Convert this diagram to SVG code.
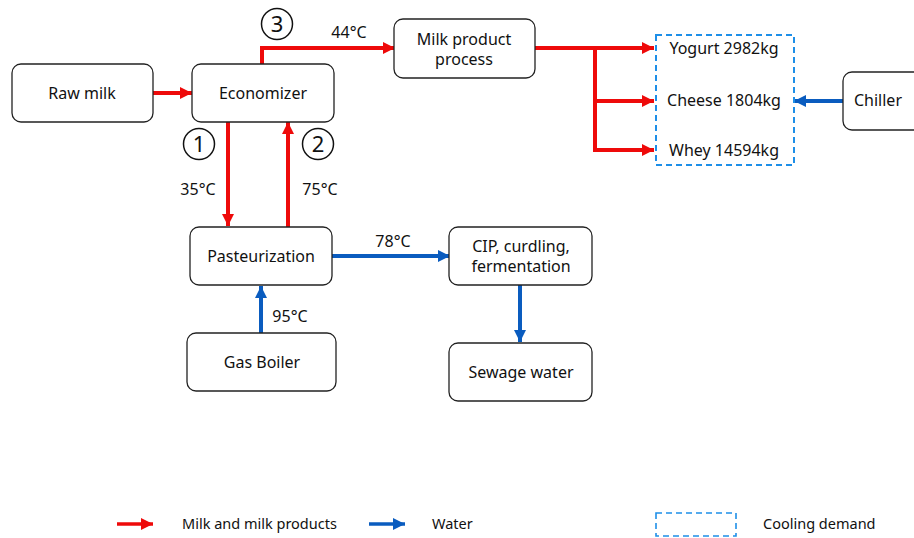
<svg xmlns="http://www.w3.org/2000/svg" width="914" height="538" viewBox="0 0 914 538">
  <style>
    text { font-family: "Noto Sans", "Open Sans", sans-serif; font-size: 16px; fill: #111; }
    .box { fill: #fff; stroke: #222; stroke-width: 1.3; }
    .milk { fill: none; stroke: #ee0a0a; stroke-width: 4; marker-end: url(#ahRed); }
    .milkplain { fill: none; stroke: #ee0a0a; stroke-width: 4; }
    .water { fill: none; stroke: #0a5cbf; stroke-width: 4; marker-end: url(#ahBlue); }
    .cool { fill: none; stroke: #1e8fe8; stroke-width: 2; stroke-dasharray: 6 4; }
    .num { fill: #fff; stroke: #111; stroke-width: 1.5; }
    .numtxt { font-size: 22px; }
    .legend { font-size: 14.5px; }
  </style>
  <defs>
    <marker id="ahRed" markerUnits="userSpaceOnUse" markerWidth="12" markerHeight="12" viewBox="0 0 10 10" refX="10" refY="5" orient="auto">
      <path d="M0,0 L10,5 L0,10 z" fill="#ee0a0a"/>
    </marker>
    <marker id="ahBlue" markerUnits="userSpaceOnUse" markerWidth="12" markerHeight="12" viewBox="0 0 10 10" refX="10" refY="5" orient="auto">
      <path d="M0,0 L10,5 L0,10 z" fill="#0a5cbf"/>
    </marker>
  </defs>

  <!-- connectors -->
  <g id="connectors">
    <line class="milk" x1="153" y1="93" x2="192" y2="93"/>
    <line class="milk" x1="228" y1="122" x2="228" y2="226"/>
    <line class="milk" x1="288" y1="227" x2="288" y2="122"/>
    <polyline class="milk" points="262,64 262,48 395,48"/>
    <line class="milkplain" x1="535" y1="48" x2="595" y2="48"/>
    <line class="milkplain" x1="595" y1="48" x2="595" y2="152"/>
    <line class="milk" x1="595" y1="48" x2="654" y2="48"/>
    <line class="milk" x1="595" y1="101" x2="654" y2="101"/>
    <line class="milk" x1="593" y1="150" x2="654" y2="150"/>
    <line class="water" x1="843" y1="101" x2="794" y2="101"/>
    <line class="water" x1="332" y1="256" x2="450" y2="256"/>
    <line class="water" x1="520" y1="285" x2="520" y2="342"/>
    <line class="water" x1="261" y1="333" x2="261" y2="286"/>

    <text x="349" y="38" text-anchor="middle">44°C</text>
    <text x="198" y="195" text-anchor="middle">35°C</text>
    <text x="320" y="195" text-anchor="middle">75°C</text>
    <text x="393" y="247" text-anchor="middle">78°C</text>
    <text x="290" y="322" text-anchor="middle">95°C</text>

    <circle class="num" cx="199" cy="144" r="15.5"/>
    <text class="numtxt" x="199" y="152" text-anchor="middle">1</text>
    <circle class="num" cx="318" cy="144" r="15.5"/>
    <text class="numtxt" x="318" y="152" text-anchor="middle">2</text>
    <circle class="num" cx="277" cy="24" r="15.5"/>
    <text class="numtxt" x="277" y="32" text-anchor="middle">3</text>
  </g>

  <!-- nodes -->
  <g id="raw-milk">
    <rect class="box" x="12" y="64" width="141" height="58" rx="9"/>
    <text x="82" y="99" text-anchor="middle">Raw milk</text>
  </g>
  <g id="economizer">
    <rect class="box" x="192" y="64" width="142" height="58" rx="9"/>
    <text x="263" y="99" text-anchor="middle">Economizer</text>
  </g>
  <g id="milk-product-process">
    <rect class="box" x="394" y="19" width="141" height="59" rx="9"/>
    <text x="464" y="45" text-anchor="middle">Milk product</text>
    <text x="464" y="65" text-anchor="middle">process</text>
  </g>
  <g id="cooling-demand">
    <rect class="cool" x="656" y="35" width="138" height="130"/>
    <text x="724" y="54" text-anchor="middle">Yogurt 2982kg</text>
    <text x="724" y="106" text-anchor="middle">Cheese 1804kg</text>
    <text x="724" y="156" text-anchor="middle">Whey 14594kg</text>
  </g>
  <g id="chiller">
    <rect class="box" x="843" y="72" width="80" height="58" rx="9"/>
    <text x="878" y="106" text-anchor="middle">Chiller</text>
  </g>
  <g id="pasteurization">
    <rect class="box" x="190" y="227" width="142" height="58" rx="9"/>
    <text x="261" y="262" text-anchor="middle">Pasteurization</text>
  </g>
  <g id="cip">
    <rect class="box" x="449" y="227" width="143" height="58" rx="9"/>
    <text x="521" y="252" text-anchor="middle">CIP, curdling,</text>
    <text x="521" y="272" text-anchor="middle">fermentation</text>
  </g>
  <g id="gas-boiler">
    <rect class="box" x="187" y="333" width="149" height="58" rx="9"/>
    <text x="262" y="368" text-anchor="middle">Gas Boiler</text>
  </g>
  <g id="sewage-water">
    <rect class="box" x="449" y="343" width="143" height="58" rx="9"/>
    <text x="521" y="378" text-anchor="middle">Sewage water</text>
  </g>

  <!-- legend -->
  <g id="legend">
    <line class="milk" x1="117" y1="524" x2="153" y2="524" style="stroke-width:3.5"/>
    <text class="legend" x="182" y="529">Milk and milk products</text>
    <line class="water" x1="369" y1="524" x2="405" y2="524" style="stroke-width:3.5"/>
    <text class="legend" x="432" y="529">Water</text>
    <rect class="cool" x="656" y="513" width="80" height="23" style="stroke-width:1.6"/>
    <text class="legend" x="763" y="529">Cooling demand</text>
  </g>
</svg>
